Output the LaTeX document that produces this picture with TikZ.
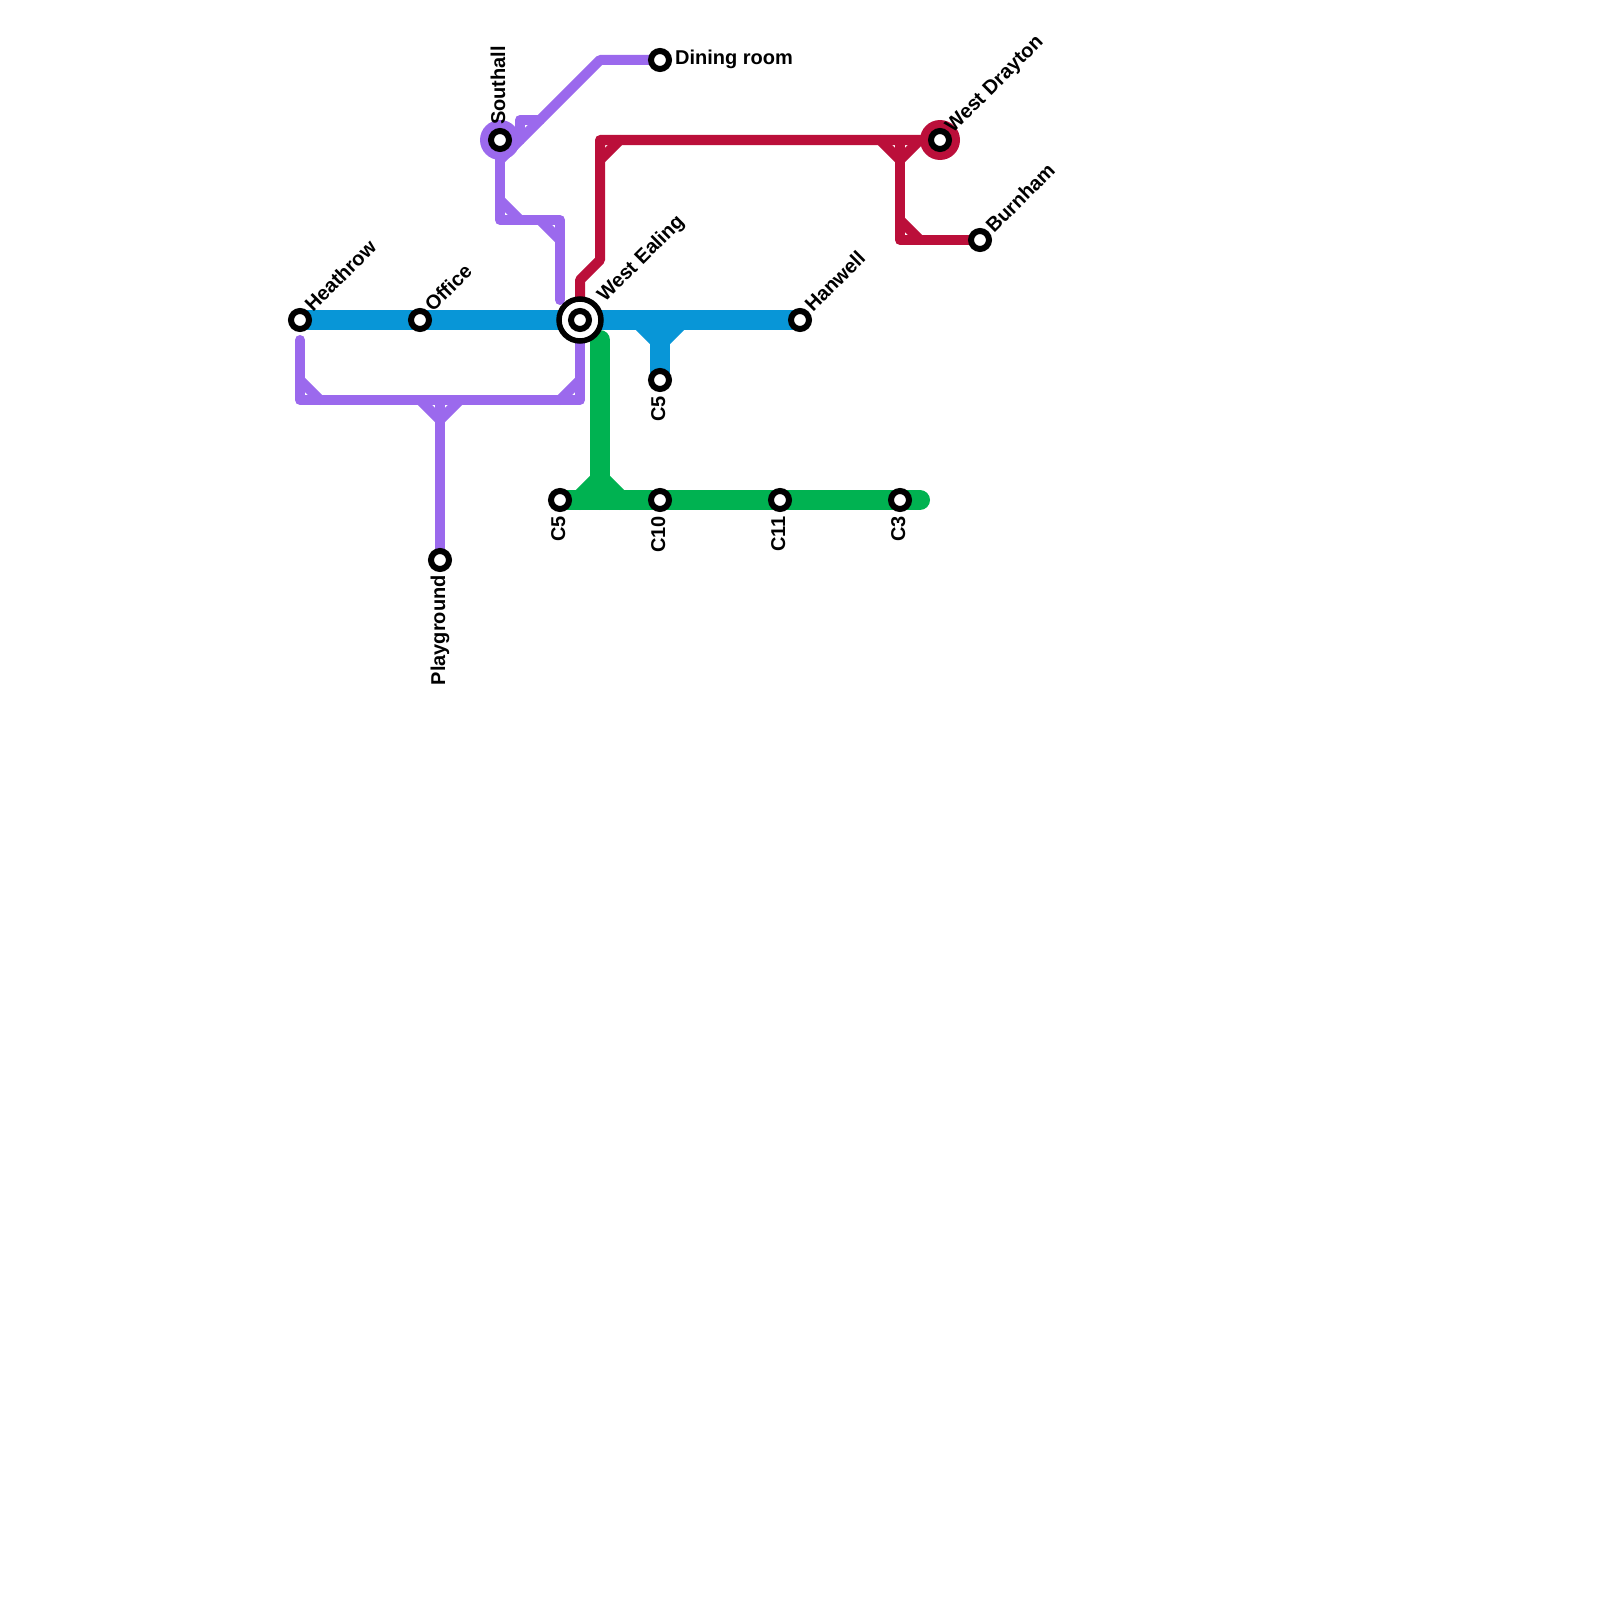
\documentclass[tikz,border=0pt]{standalone}
\usepackage{fontspec}
\setmainfont{Liberation Sans}
\definecolor{mpurple}{HTML}{9B69ED}
\definecolor{mblue}{HTML}{0896D7}
\definecolor{mred}{HTML}{BB0F3A}
\definecolor{mgreen}{HTML}{00B251}
\tikzset{
  thin line/.style={line width=10pt,line cap=round,line join=round},
  thick line/.style={line width=20pt,line cap=round,line join=round},
  stationmark/.style={circle,draw=black,fill=white,line width=6pt,minimum size=18pt,inner sep=0pt},
  interchange/.style={circle,draw=black,fill=white,line width=5.5pt,minimum size=42pt,inner sep=0pt},
  halo/.style={circle,minimum size=40pt,inner sep=0pt},
  lab/.style={font=\fontsize{20}{24}\selectfont\bfseries,inner sep=0pt,text=black},
  labdiag/.style={lab,anchor=base west,rotate=45},
  labup/.style={lab,anchor=base west,rotate=90},
  labdown/.style={lab,anchor=base east,rotate=90},
}
\begin{document}
\begin{tikzpicture}[x=1pt,y=-1pt]
\useasboundingbox (0,0) rectangle (1600,1600);
% stations positions
\coordinate (heathrow) at (300,320);
\coordinate (office) at (420,320);
\coordinate (ealing) at (580,320);
\coordinate (hanwell) at (800,320);
\coordinate (cfiveup) at (660,380);
\coordinate (cfivelow) at (560,500);
\coordinate (cten) at (660,500);
\coordinate (celeven) at (780,500);
\coordinate (cthree) at (900,500);
\coordinate (southall) at (500,140);
\coordinate (dining) at (660,60);
\coordinate (drayton) at (940,140);
\coordinate (burnham) at (980,240);
\coordinate (playground) at (440,560);
% purple
\draw[mpurple,thin line] (300,340) -- (300,400) -- (580,400) -- (580,330);
\draw[mpurple,thin line] (300,380) -- (320,400);
\draw[mpurple,thin line] (560,400) -- (580,380);
\draw[mpurple,thin line] (420,400) -- (440,420) -- (460,400);
\draw[mpurple,thin line] (440,400) -- (playground);
\draw[mpurple,thin line] (500,160) -- (600,60) -- (dining);
\draw[mpurple,thin line] (southall) -- (500,220) -- (560,220) -- (560,300);
\draw[mpurple,thin line] (500,200) -- (520,220);
\draw[mpurple,thin line] (540,220) -- (560,240);
\draw[mpurple,thin line] (520,140) -- (520,120) -- (540,120);
\node[halo,fill=mpurple] (southallhalo) at (southall) {};
% red
\draw[mred,thin line] (ealing) -- (580,280) -- (600,260) -- (600,140) -- (drayton);
\draw[mred,thin line] (600,160) -- (620,140);
\draw[mred,thin line] (880,140) -- (900,160) -- (920,140);
\draw[mred,thin line] (900,140) -- (900,240) -- (burnham);
\draw[mred,thin line] (900,220) -- (920,240);
\node[halo,fill=mred] (draytonhalo) at (drayton) {};
% blue
\draw[mblue,thick line] (heathrow) -- (hanwell);
\draw[mblue,thick line] (640,320) -- (660,340) -- (680,320);
\draw[mblue,thick line] (660,320) -- (cfiveup);
% green
\draw[mgreen,thick line] (600,340) -- (600,500);
\draw[mgreen,thick line] (cfivelow) -- (920,500);
\draw[mgreen,thick line] (580,500) -- (600,480) -- (620,500);
% markers
\node[stationmark] (n1) at (heathrow) {};
\node[stationmark] (n2) at (office) {};
\node[interchange] (n3) at (ealing) {};
\node[stationmark] (n3b) at (ealing) {};
\node[stationmark] (n4) at (hanwell) {};
\node[stationmark] (n5) at (cfiveup) {};
\node[stationmark] (n6) at (cfivelow) {};
\node[stationmark] (n7) at (cten) {};
\node[stationmark] (n8) at (celeven) {};
\node[stationmark] (n9) at (cthree) {};
\node[stationmark] (n10) at (southall) {};
\node[stationmark] (n11) at (dining) {};
\node[stationmark] (n12) at (drayton) {};
\node[stationmark] (n13) at (burnham) {};
\node[stationmark] (n14) at (playground) {};
% labels
\node[labdiag] (l1) at (313,313) {Heathrow};
\node[labdiag] (l2) at (433,313) {Office};
\node[labdiag] (l3) at (605,303) {West Ealing};
\node[labdiag] (l4) at (813,313) {Hanwell};
\node[labdiag] (l5) at (953,134) {West Drayton};
\node[labdiag] (l6) at (994,234) {Burnham};
\node[labup] (l7) at (505,125) {Southall};
\node[lab,anchor=base west] (l8) at (675,65) {Dining room};
\node[labdown] (l9) at (665,396) {C5};
\node[labdown] (l10) at (565,516) {C5};
\node[labdown] (l11) at (665,516) {C10};
\node[labdown] (l12) at (785,516) {C11};
\node[labdown] (l13) at (905,516) {C3};
\node[labdown] (l14) at (445,575) {Playground};
\end{tikzpicture}
\end{document}
